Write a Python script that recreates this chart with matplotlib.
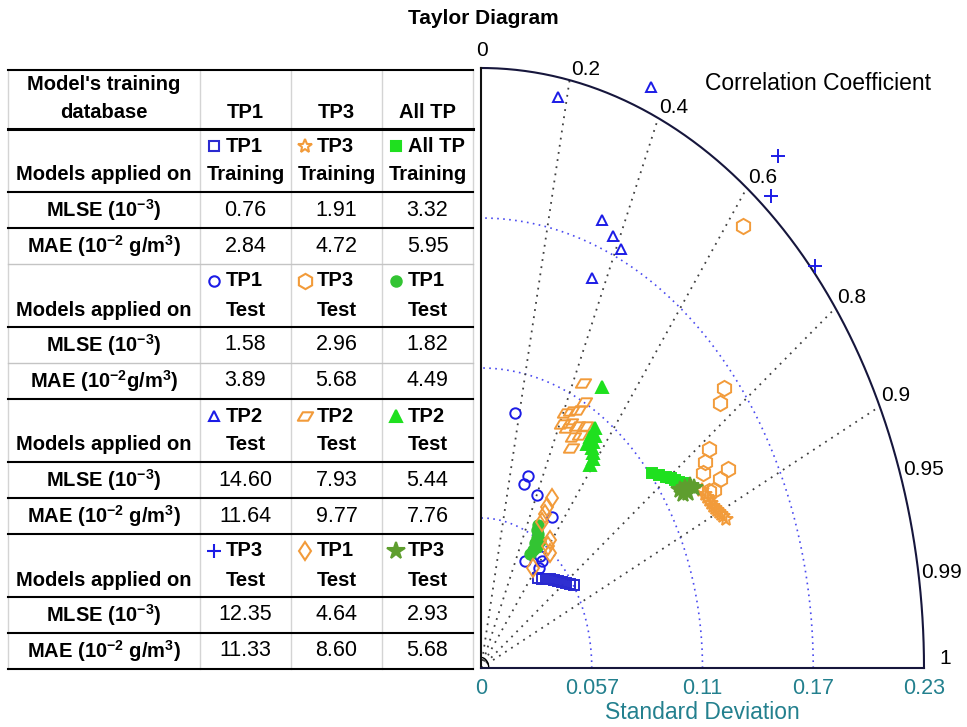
"""Taylor diagram with the model error table beside it."""

import numpy as np
import matplotlib
matplotlib.use("Agg")
import matplotlib.pyplot as plt
from matplotlib.path import Path

plt.rcParams["font.family"] = ["Liberation Sans", "DejaVu Sans"]
plt.rcParams["mathtext.default"] = "regular"

W, H = 967, 727

# ---- Taylor diagram axes ----
std_ticks = [0, 0.057, 0.114, 0.171, 0.228]
corr_ticks = [0, 0.2, 0.4, 0.6, 0.8, 0.9, 0.95, 0.99, 1]
corr_lines = [0.2, 0.4, 0.6, 0.8, 0.9]

# ---- model points (standard deviation, correlation) ----
tp1_train_std = [0.0450, 0.0461, 0.0476, 0.0490, 0.0503, 0.0516, 0.0530, 0.0544, 0.0558, 0.0573]
tp1_train_corr = [0.651, 0.681, 0.704, 0.724, 0.747, 0.768, 0.787, 0.804, 0.821, 0.835]
tp1_on_tp1_std = [0.0985, 0.0768, 0.0733, 0.0717, 0.0680, 0.0465, 0.0523, 0.0514, 0.0483]
tp1_on_tp1_corr = [0.178, 0.315, 0.302, 0.402, 0.537, 0.487, 0.581, 0.611, 0.618]
tp1_on_tp2_std = [0.2205, 0.2374, 0.1813, 0.1776, 0.1748, 0.1588]
tp1_on_tp2_corr = [0.180, 0.369, 0.344, 0.382, 0.412, 0.360]
tp1_on_tp3_std = [0.2474, 0.2333, 0.2299]
tp1_on_tp3_corr = [0.618, 0.640, 0.748]

tp3_train_std = [0.1323, 0.1329, 0.1332, 0.1336, 0.1340, 0.1343, 0.1349, 0.1355, 0.1361, 0.1367, 0.1373, 0.1382]
tp3_train_corr = [0.860, 0.868, 0.873, 0.878, 0.884, 0.889, 0.893, 0.897, 0.900, 0.904, 0.907, 0.912]
tp3_on_tp3_std = [0.2153, 0.1642, 0.1590, 0.1438, 0.1394, 0.1362, 0.1479, 0.1424, 0.1377, 0.1352]
tp3_on_tp3_corr = [0.626, 0.762, 0.774, 0.816, 0.827, 0.839, 0.860, 0.864, 0.871, 0.868]
tp3_on_tp2_std = [0.1203, 0.1141, 0.1100, 0.1081, 0.1061, 0.1016, 0.1037, 0.1044, 0.1013, 0.1022, 0.0997, 0.0956, 0.1064]
tp3_on_tp2_corr = [0.436, 0.464, 0.454, 0.429, 0.407, 0.410, 0.441, 0.473, 0.437, 0.499, 0.475, 0.485, 0.503]
tp3_on_tp1_std = [0.0742, 0.0700, 0.0671, 0.0637, 0.0602, 0.0578, 0.0563, 0.0465]
tp3_on_tp1_corr = [0.492, 0.485, 0.491, 0.493, 0.590, 0.597, 0.631, 0.576]

all_train_std = [0.1150, 0.1173, 0.1197, 0.1216, 0.1228, 0.1240, 0.1255, 0.1264]
all_train_corr = [0.765, 0.781, 0.795, 0.804, 0.813, 0.822, 0.828, 0.835]
all_on_tp1_std = [0.0617, 0.0598, 0.0587, 0.0572, 0.0570, 0.0550, 0.0543, 0.0522, 0.0501]
all_on_tp1_corr = [0.475, 0.482, 0.500, 0.504, 0.532, 0.505, 0.531, 0.513, 0.503]
all_on_tp2_std = [0.1236, 0.1085, 0.1059, 0.1042, 0.1034, 0.1011, 0.1012, 0.1000, 0.0981, 0.0954]
all_on_tp2_corr = [0.504, 0.541, 0.554, 0.538, 0.557, 0.540, 0.564, 0.576, 0.587, 0.588]
all_on_tp3_std = [0.1227, 0.1253, 0.1279, 0.1292, 0.1256, 0.1232]
all_on_tp3_corr = [0.835, 0.838, 0.841, 0.848, 0.848, 0.844]

# ---- table ----
train_models = ["TP1", "TP3", "All TP"]
applied_on = [["TP1", "TP3", "All TP"], ["TP1", "TP3", "TP1"], ["TP2", "TP2", "TP2"], ["TP3", "TP1", "TP3"]]
applied_set = [["Training"] * 3, ["Test"] * 3, ["Test"] * 3, ["Test"] * 3]
mlse = [[0.76, 1.91, 3.32], [1.58, 2.96, 1.82], [14.60, 7.93, 5.44], [12.35, 4.64, 2.93]]
mae = [[2.84, 4.72, 5.95], [3.89, 5.68, 4.49], [11.64, 9.77, 7.76], [11.33, 8.60, 5.68]]
mlse_label = "MLSE (10$^{-3}$)"
mae_labels = ["MAE (10$^{-2}$ g/m$^{3}$)", "MAE (10$^{-2}$g/m$^{3}$)",
              "MAE (10$^{-2}$ g/m$^{3}$)", "MAE (10$^{-2}$ g/m$^{3}$)"]

BLUE = "#1c1ce6"
ORANGE = "#f29b3a"
GREEN = "#1fe01f"
NAVY = "#16163c"
TEAL = "#23808e"

para = Path([(-1, -0.55), (0.35, -0.55), (1, 0.55), (-0.35, 0.55), (-1, -0.55)],
            [Path.MOVETO, Path.LINETO, Path.LINETO, Path.LINETO, Path.CLOSEPOLY])

# one row per table block, one entry per training database
series = [
    [(tp1_train_std, tp1_train_corr, "s", "#2a2ad0", False, 7.5),
     (tp3_train_std, tp3_train_corr, "*", ORANGE, False, 10),
     (all_train_std, all_train_corr, "s", GREEN, True, 7.5)],
    [(tp1_on_tp1_std, tp1_on_tp1_corr, "o", BLUE, False, 7.5),
     (tp3_on_tp3_std, tp3_on_tp3_corr, "h", ORANGE, False, 11),
     (all_on_tp1_std, all_on_tp1_corr, "o", "#33c433", True, 7.5)],
    [(tp1_on_tp2_std, tp1_on_tp2_corr, "^", BLUE, False, 7.5),
     (tp3_on_tp2_std, tp3_on_tp2_corr, para, ORANGE, False, 11),
     (all_on_tp2_std, all_on_tp2_corr, "^", GREEN, True, 8.5)],
    [(tp1_on_tp3_std, tp1_on_tp3_corr, "+", BLUE, False, 10),
     (tp3_on_tp1_std, tp3_on_tp1_corr, "d", ORANGE, False, 9.5),
     (all_on_tp3_std, all_on_tp3_corr, "*", "#5e9e2e", True, 13)],
]


def to_xy(std, corr):
    std = np.asarray(std)
    corr = np.asarray(corr)
    return std * corr, std * np.sqrt(1 - corr ** 2)


fig = plt.figure(figsize=(W / 100, H / 100), dpi=100)
fig.text(483 / W, 1 - 18 / H, "Taylor Diagram", fontsize=15, fontweight="bold", ha="center", va="center")

# ---------------- Taylor diagram ----------------
ax = fig.add_axes([481 / W, (H - 668) / H, 443 / W, 600 / H])
smax = std_ticks[-1]
ax.set_xlim(0, smax)
ax.set_ylim(0, smax)
ax.axis("off")
theta = np.linspace(0, np.pi / 2, 300)

for s in std_ticks[1:-1]:
    ax.plot(s * np.cos(theta), s * np.sin(theta), color="#4a4af0", lw=1.2, ls=(0, (1, 2.6)))
for c in corr_lines:
    x, y = to_xy([smax], [c])
    ax.plot([0, x[0]], [0, y[0]], color="#404040", lw=1.3, ls=(0, (1, 3)))
ax.plot(0.004 * np.cos(theta), 0.004 * np.sin(theta), color="black", lw=1)

ax.plot(smax * np.cos(theta), smax * np.sin(theta), color=NAVY, lw=1.5, clip_on=False)
ax.plot([0, 0], [0, smax], color="#111111", lw=1.5, clip_on=False)
ax.plot([0, smax], [0, 0], color=NAVY, lw=1.5, clip_on=False)

for s in std_ticks:
    ax.annotate("{:.2g}".format(s), (s, 0), xytext=(0, -7), textcoords="offset points",
                ha="center", va="top", color=TEAL, fontsize=15.5)
ax.annotate("Standard Deviation", (smax / 2, 0), xytext=(0, -32), textcoords="offset points",
            ha="center", va="center", color=TEAL, fontsize=16.5)

for c in corr_ticks:
    x, y = to_xy([smax], [c])
    if c == 0:
        offset, ha = (1, 6), "center"
    elif c == 1:
        offset, ha = (11, 0), "left"
    else:
        offset, ha = (1, 1), "left"
    ax.annotate("{:g}".format(c), (x[0], y[0]), xytext=offset, textcoords="offset points",
                ha=ha, va="bottom", fontsize=15)
fig.text(705 / W, 1 - 83 / H, "Correlation Coefficient", fontsize=16.5, ha="left", va="center")

for block in series:
    for std, corr, marker, color, filled, size in block:
        x, y = to_xy(std, corr)
        ax.plot(x, y, ls="none", marker=marker, ms=size, mew=1.4, mec=color,
                mfc=color if filled else "none", clip_on=False, zorder=3)

# ---------------- table ----------------
tab = fig.add_axes([8 / W, (H - 670) / H, 465 / W, 600 / H])
col_edges = [0, 192, 283, 374, 465]
col_mid = [(a + b) / 2 for a, b in zip(col_edges[:-1], col_edges[1:])]
tab.set_xlim(0, col_edges[-1])
tab.set_ylim(600, 0)
tab.axis("off")

header_h, models_h, metric_h = 59, 63, 36
row_edges = [0, header_h]
for _ in mlse:
    row_edges += [row_edges[-1] + models_h, row_edges[-1] + models_h + metric_h,
                  row_edges[-1] + models_h + 2 * metric_h]
gray_edges = {row_edges[4], row_edges[6]}

for x in col_edges:
    tab.plot([x, x], [0, row_edges[-1]], color="#d4d4d4", lw=1, clip_on=False)
for i, y in enumerate(row_edges):
    if y in gray_edges:
        tab.plot([0, col_edges[-1]], [y, y], color="#c4c4c4", lw=1, clip_on=False)
    else:
        tab.plot([0, col_edges[-1]], [y, y], color="black", lw=2.2 if i == 1 else 1.5, clip_on=False)

bold = dict(fontsize=14.5, fontweight="bold", ha="center", va="center")
tab.text(col_mid[0], 15, "Model's training", **bold)
tab.text(col_mid[0], 42, "database", **bold)
for j, name in enumerate(train_models):
    tab.text(col_mid[j + 1], 43, name, **bold)

for b, block in enumerate(series):
    top = row_edges[1 + 3 * b]
    tab.text(col_mid[0], top + 46, "Models applied on", **bold)
    for j, (std, corr, marker, color, filled, size) in enumerate(block):
        left = col_edges[j + 1]
        tab.plot(left + 14, top + 17, marker=marker, ms=size, mew=1.5, mec=color,
                 mfc=color if filled else "none", clip_on=False)
        tab.text(left + 26, top + 17, applied_on[b][j], fontsize=14.5, fontweight="bold",
                 ha="left", va="center")
        tab.text(col_mid[j + 1], top + 46, applied_set[b][j], **bold)
        tab.text(col_mid[j + 1], top + models_h + metric_h / 2, "{:.2f}".format(mlse[b][j]),
                 fontsize=15.5, ha="center", va="center")
        tab.text(col_mid[j + 1], top + models_h + 1.5 * metric_h, "{:.2f}".format(mae[b][j]),
                 fontsize=15.5, ha="center", va="center")
    tab.text(col_mid[0], top + models_h + metric_h / 2, mlse_label, **bold)
    tab.text(col_mid[0], top + models_h + 1.5 * metric_h, mae_labels[b], **bold)

fig.savefig("out.png", dpi=100)
